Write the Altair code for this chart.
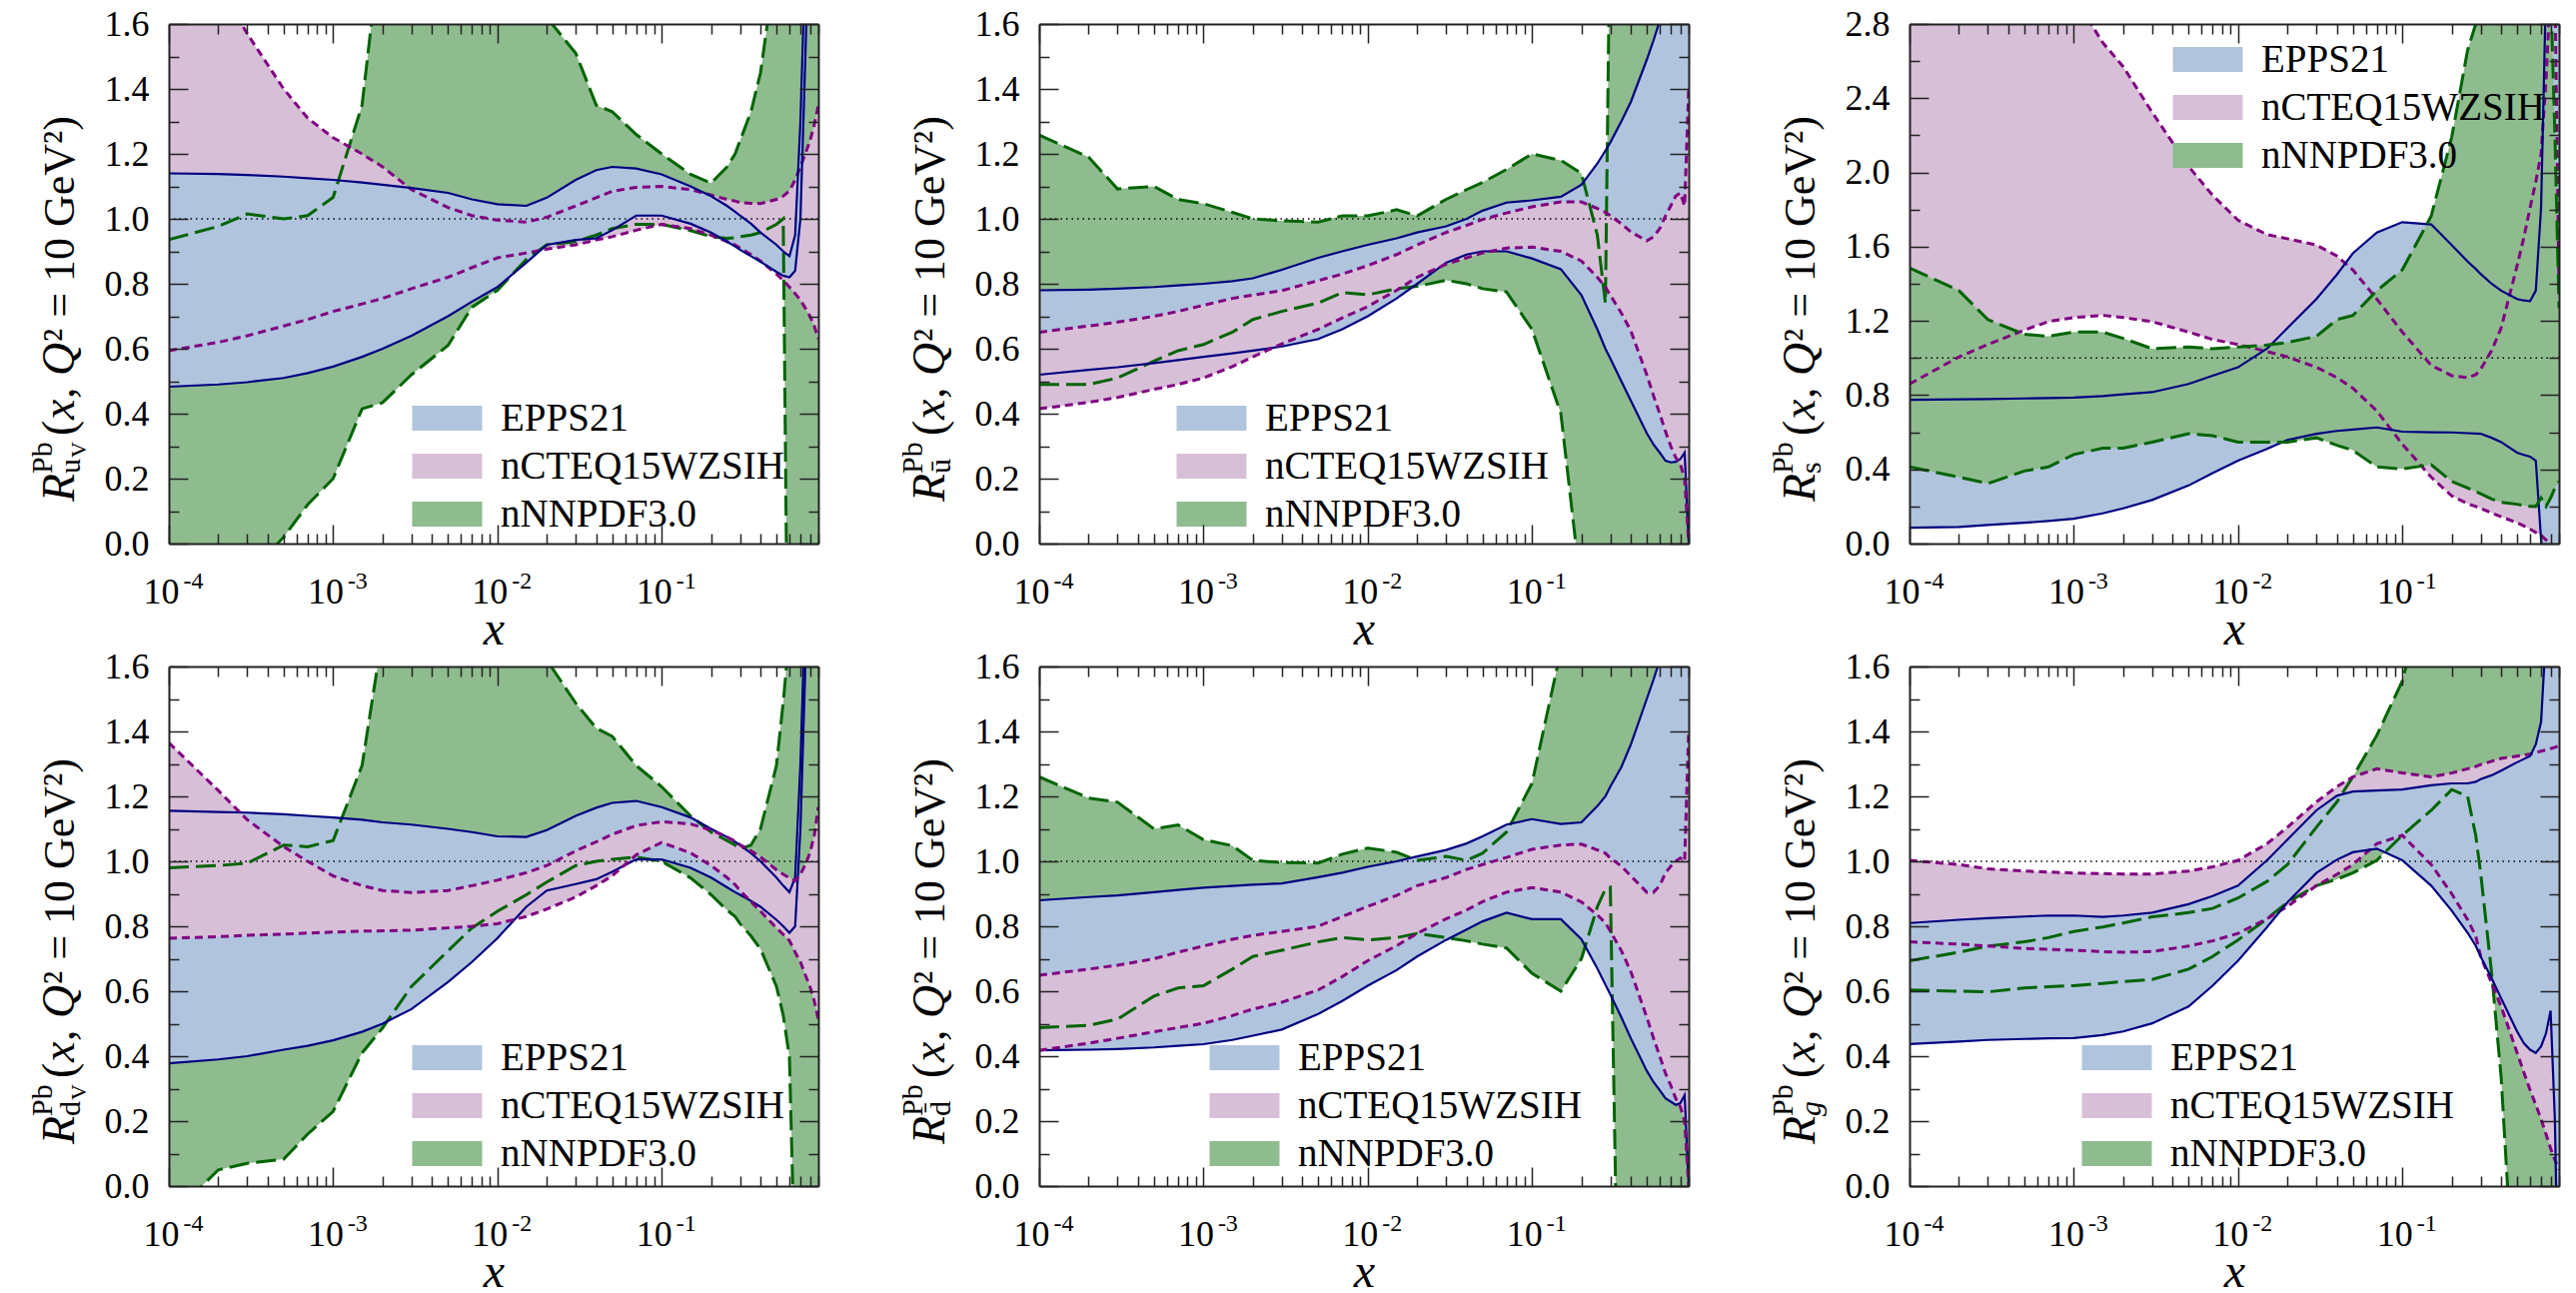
import altair as alt
import pandas as pd

# ---------------- data ----------------
X = [1e-4, 2e-4, 3e-4, 5e-4, 7e-4, 1e-3, 1.5e-3, 2e-3, 3e-3, 5e-3, 7e-3,
     1e-2, 1.5e-2, 2e-2, 3e-2, 4e-2, 5e-2, 7e-2, 0.1, 0.15, 0.2, 0.25, 0.28,
     0.3, 0.35, 0.4, 0.5, 0.55, 0.6, 0.65, 0.7, 0.75, 0.8, 0.85, 0.9]

MODELS = ["EPPS21", "nCTEQ15WZSIH", "nNNPDF3.0"]
FILL_COLORS = ["#b0c4de", "#d8bfd8", "#8fbc8f"]
LINE_COLORS = ["#000080", "#800080", "#006400"]

# u_V
UV_EPPS_HI = [1.14, 1.138, 1.135, 1.13, 1.125, 1.12, 1.112, 1.105, 1.095, 1.08, 1.06, 1.045, 1.04, 1.065, 1.12, 1.15, 1.16, 1.155, 1.137, 1.10, 1.07, 1.04, 1.022, 1.01, 0.985, 0.958, 0.92, 0.90, 0.885, 0.95, 1.3, 1.8, 2.2, 2.5, 2.8]
UV_EPPS_LO = [0.483, 0.49, 0.497, 0.51, 0.525, 0.545, 0.575, 0.60, 0.64, 0.70, 0.745, 0.79, 0.865, 0.92, 0.935, 0.94, 0.965, 1.01, 1.01, 0.985, 0.958, 0.93, 0.915, 0.905, 0.885, 0.868, 0.837, 0.825, 0.82, 0.84, 1.0, 1.5, 2.0, 2.4, 2.7]
UV_CTEQ_HI = [2.1, 1.72, 1.57, 1.40, 1.31, 1.25, 1.20, 1.16, 1.09, 1.035, 1.01, 0.996, 0.99, 1.005, 1.04, 1.065, 1.085, 1.097, 1.10, 1.09, 1.073, 1.06, 1.055, 1.05, 1.048, 1.047, 1.06, 1.07, 1.086, 1.12, 1.16, 1.2, 1.24, 1.29, 1.35]
UV_CTEQ_LO = [0.594, 0.62, 0.64, 0.67, 0.69, 0.715, 0.738, 0.755, 0.785, 0.82, 0.85, 0.88, 0.895, 0.907, 0.92, 0.935, 0.945, 0.965, 0.983, 0.97, 0.95, 0.93, 0.92, 0.91, 0.89, 0.87, 0.83, 0.81, 0.79, 0.77, 0.75, 0.725, 0.70, 0.67, 0.63]
UV_NNPDF_HI = [0.936, 0.977, 1.015, 1.0, 1.01, 1.066, 1.35, 1.9, 2.5, 2.5, 2.5, 2.5, 2.5, 1.62, 1.51, 1.35, 1.33, 1.26, 1.2, 1.137, 1.11, 1.16, 1.2, 1.24, 1.33, 1.45, 1.8, 2.2, 2.5, 2.5, 2.5, 2.5, 2.5, 2.5, 2.5]
UV_NNPDF_LO = [-0.6, -0.25, -0.1, 0.02, 0.12, 0.20, 0.415, 0.434, 0.52, 0.61, 0.728, 0.78, 0.875, 0.92, 0.93, 0.95, 0.97, 0.983, 0.983, 0.964, 0.945, 0.94, 0.942, 0.945, 0.95, 0.958, 0.983, 1.0, -1.0, -1.0, -1.0, -1.0, -1.0, -1.0, -1.0]

# u-bar
UB_EPPS_HI = [0.78, 0.782, 0.785, 0.79, 0.795, 0.80, 0.808, 0.817, 0.843, 0.88, 0.90, 0.92, 0.94, 0.958, 0.977, 1.0, 1.025, 1.05, 1.057, 1.068, 1.105, 1.17, 1.21, 1.235, 1.30, 1.36, 1.49, 1.55, 1.61, 1.68, 1.75, 1.82, 1.9, 2.0, 2.1]
UB_EPPS_LO = [0.52, 0.535, 0.543, 0.556, 0.565, 0.575, 0.586, 0.594, 0.607, 0.63, 0.66, 0.70, 0.755, 0.80, 0.865, 0.89, 0.90, 0.90, 0.878, 0.845, 0.765, 0.66, 0.60, 0.57, 0.50, 0.44, 0.34, 0.305, 0.28, 0.255, 0.25, 0.252, 0.26, 0.28, 0.0]
UB_CTEQ_HI = [0.651, 0.67, 0.682, 0.70, 0.715, 0.734, 0.755, 0.765, 0.779, 0.81, 0.83, 0.856, 0.89, 0.92, 0.958, 0.98, 0.998, 1.018, 1.037, 1.052, 1.052, 1.032, 1.02, 1.01, 0.985, 0.96, 0.932, 0.945, 0.97, 1.009, 1.04, 1.07, 1.08, 1.04, 1.4]
UB_CTEQ_LO = [0.415, 0.435, 0.45, 0.475, 0.49, 0.51, 0.545, 0.575, 0.615, 0.66, 0.695, 0.73, 0.78, 0.82, 0.86, 0.88, 0.895, 0.91, 0.913, 0.90, 0.87, 0.82, 0.79, 0.765, 0.71, 0.655, 0.52, 0.455, 0.40, 0.345, 0.30, 0.265, 0.245, 0.2, 0.0]
UB_NNPDF_HI = [1.258, 1.19, 1.092, 1.10, 1.06, 1.047, 1.02, 1.0, 0.994, 0.99, 1.009, 1.009, 1.028, 1.009, 1.06, 1.09, 1.112, 1.152, 1.2, 1.18, 1.14, 0.95, 0.74, 2.0, 2.5, 2.5, 2.5, 2.5, 2.5, 2.5, 2.5, 2.5, 2.5, 2.5, 2.5]
UB_NNPDF_LO = [0.49, 0.49, 0.51, 0.562, 0.594, 0.613, 0.651, 0.69, 0.715, 0.741, 0.773, 0.766, 0.785, 0.792, 0.811, 0.80, 0.785, 0.775, 0.66, 0.40, -0.15, -1.0, -1.0, -1.0, -1.0, -1.0, -1.0, -1.0, -1.0, -1.0, -1.0, -1.0, -1.0, -1.0, -1.0]

# s
S_EPPS_HI = [0.775, 0.777, 0.779, 0.782, 0.784, 0.787, 0.795, 0.804, 0.816, 0.86, 0.905, 0.95, 1.05, 1.162, 1.318, 1.45, 1.564, 1.676, 1.732, 1.72, 1.609, 1.52, 1.48, 1.453, 1.40, 1.363, 1.318, 1.31, 1.307, 1.363, 1.81, 3.0, 3.0, 3.0, 3.0]
S_EPPS_LO = [0.085, 0.09, 0.10, 0.112, 0.122, 0.134, 0.163, 0.19, 0.235, 0.313, 0.38, 0.447, 0.51, 0.559, 0.592, 0.607, 0.615, 0.626, 0.603, 0.60, 0.599, 0.595, 0.593, 0.592, 0.57, 0.547, 0.49, 0.478, 0.469, 0.447, 0.02, -0.5, -0.5, -0.5, -0.5]
S_CTEQ_HI = [5.0, 4.3, 3.9, 3.5, 3.2, 2.95, 2.7, 2.57, 2.324, 2.033, 1.877, 1.743, 1.665, 1.643, 1.609, 1.55, 1.475, 1.318, 1.14, 0.961, 0.905, 0.894, 0.91, 0.939, 1.04, 1.162, 1.497, 1.65, 1.81, 1.95, 2.1, 2.5, 3.0, 3.0, 1.38]
S_CTEQ_LO = [0.86, 1.006, 1.073, 1.151, 1.196, 1.218, 1.23, 1.218, 1.196, 1.14, 1.10, 1.073, 1.035, 1.006, 0.95, 0.895, 0.838, 0.715, 0.536, 0.358, 0.257, 0.215, 0.20, 0.19, 0.165, 0.145, 0.112, 0.095, 0.078, 0.06, 0.045, 0.02, 0.0, -0.1, -0.2]
S_NNPDF_HI = [1.486, 1.363, 1.207, 1.128, 1.117, 1.14, 1.14, 1.106, 1.05, 1.06, 1.05, 1.06, 1.07, 1.084, 1.117, 1.207, 1.229, 1.363, 1.475, 1.765, 2.19, 2.66, 2.8, 2.9, 3.0, 3.0, 3.0, 3.0, 3.0, 3.0, 3.0, 3.0, 3.0, 2.2, 1.27]
S_NNPDF_LO = [0.413, 0.358, 0.324, 0.391, 0.413, 0.48, 0.514, 0.514, 0.547, 0.592, 0.581, 0.547, 0.547, 0.547, 0.57, 0.53, 0.503, 0.413, 0.402, 0.425, 0.335, 0.30, 0.28, 0.268, 0.24, 0.223, 0.212, 0.205, 0.201, 0.20, 0.246, 0.2, 0.246, 0.30, 0.335]

# d_V
DV_EPPS_HI = [1.156, 1.152, 1.15, 1.145, 1.14, 1.135, 1.128, 1.12, 1.113, 1.10, 1.09, 1.077, 1.075, 1.096, 1.14, 1.165, 1.18, 1.186, 1.167, 1.135, 1.10, 1.075, 1.06, 1.05, 1.025, 1.0, 0.95, 0.925, 0.905, 0.95, 1.3, 1.8, 2.2, 2.5, 2.8]
DV_EPPS_LO = [0.378, 0.39, 0.40, 0.42, 0.432, 0.449, 0.475, 0.50, 0.545, 0.628, 0.69, 0.763, 0.86, 0.91, 0.93, 0.945, 0.968, 1.006, 1.006, 0.98, 0.95, 0.92, 0.905, 0.897, 0.878, 0.86, 0.82, 0.80, 0.78, 0.8, 1.1, 1.6, 2.0, 2.4, 2.7]
DV_CTEQ_HI = [1.365, 1.218, 1.128, 1.045, 1.0, 0.955, 0.925, 0.91, 0.904, 0.91, 0.925, 0.942, 0.965, 0.987, 1.032, 1.06, 1.083, 1.11, 1.122, 1.115, 1.096, 1.075, 1.062, 1.051, 1.032, 1.013, 0.974, 0.96, 0.949, 0.94, 0.96, 0.99, 1.026, 1.08, 1.167]
DV_CTEQ_LO = [0.763, 0.768, 0.772, 0.776, 0.779, 0.782, 0.785, 0.786, 0.788, 0.795, 0.80, 0.808, 0.83, 0.853, 0.89, 0.925, 0.955, 1.02, 1.058, 1.026, 0.987, 0.95, 0.928, 0.91, 0.876, 0.846, 0.795, 0.775, 0.756, 0.72, 0.69, 0.65, 0.615, 0.57, 0.513]
DV_NNPDF_HI = [0.98, 0.987, 0.994, 1.05, 1.045, 1.064, 1.295, 1.7, 2.5, 2.5, 2.5, 2.5, 2.5, 1.62, 1.487, 1.41, 1.385, 1.295, 1.23, 1.14, 1.09, 1.064, 1.05, 1.038, 1.05, 1.10, 1.295, 1.49, 1.7, 2.5, 2.5, 2.5, 2.5, 2.5, 2.5]
DV_NNPDF_LO = [-0.1, 0.05, 0.07, 0.083, 0.16, 0.23, 0.41, 0.487, 0.615, 0.724, 0.795, 0.846, 0.897, 0.936, 0.987, 1.0, 1.006, 1.013, 1.0, 0.949, 0.897, 0.85, 0.83, 0.808, 0.77, 0.73, 0.615, 0.526, 0.397, -0.3, -1.0, -1.0, -1.0, -1.0, -1.0]

# d-bar
DB_EPPS_HI = [0.88, 0.89, 0.895, 0.905, 0.912, 0.919, 0.924, 0.928, 0.932, 0.951, 0.965, 0.983, 1.0, 1.015, 1.035, 1.055, 1.077, 1.113, 1.13, 1.115, 1.12, 1.17, 1.20, 1.23, 1.29, 1.36, 1.50, 1.56, 1.62, 1.7, 1.78, 1.85, 1.92, 2.0, 2.1]
DB_EPPS_LO = [0.418, 0.42, 0.422, 0.427, 0.432, 0.437, 0.45, 0.463, 0.482, 0.53, 0.57, 0.617, 0.665, 0.707, 0.758, 0.79, 0.815, 0.842, 0.822, 0.822, 0.76, 0.67, 0.62, 0.59, 0.52, 0.455, 0.355, 0.32, 0.295, 0.27, 0.26, 0.25, 0.255, 0.28, 0.0]
DB_CTEQ_HI = [0.649, 0.668, 0.68, 0.70, 0.72, 0.739, 0.76, 0.772, 0.784, 0.80, 0.83, 0.861, 0.895, 0.925, 0.95, 0.975, 0.99, 1.012, 1.037, 1.05, 1.053, 1.035, 1.025, 1.01, 0.985, 0.955, 0.905, 0.905, 0.925, 0.964, 0.985, 1.0, 1.01, 1.0, 1.4]
DB_CTEQ_LO = [0.418, 0.44, 0.455, 0.475, 0.488, 0.501, 0.525, 0.545, 0.566, 0.604, 0.645, 0.694, 0.74, 0.778, 0.823, 0.85, 0.876, 0.905, 0.919, 0.905, 0.875, 0.835, 0.81, 0.785, 0.725, 0.66, 0.52, 0.455, 0.40, 0.347, 0.31, 0.27, 0.245, 0.2, 0.0]
DB_NNPDF_HI = [1.26, 1.195, 1.182, 1.10, 1.112, 1.067, 1.048, 1.003, 0.996, 0.995, 1.022, 1.041, 1.028, 1.003, 1.015, 1.003, 1.025, 1.09, 1.24, 1.65, 2.2, 2.5, 2.5, 2.5, 2.5, 2.5, 2.5, 2.5, 2.5, 2.5, 2.5, 2.5, 2.5, 2.5, 2.5]
DB_NNPDF_LO = [0.488, 0.495, 0.514, 0.585, 0.61, 0.617, 0.668, 0.707, 0.726, 0.752, 0.765, 0.758, 0.765, 0.778, 0.765, 0.755, 0.745, 0.733, 0.655, 0.60, 0.70, 0.86, 0.915, 0.92, -1.0, -1.0, -1.0, -1.0, -1.0, -1.0, -1.0, -1.0, -1.0, -1.0, -1.0]

# g
G_EPPS_HI = [0.81, 0.82, 0.825, 0.83, 0.833, 0.833, 0.829, 0.833, 0.842, 0.868, 0.893, 0.925, 1.003, 1.067, 1.157, 1.202, 1.215, 1.218, 1.221, 1.234, 1.24, 1.24, 1.245, 1.253, 1.265, 1.279, 1.305, 1.315, 1.324, 1.36, 1.43, 1.7, 2.2, 2.6, 2.8]
G_EPPS_LO = [0.437, 0.445, 0.45, 0.453, 0.455, 0.456, 0.465, 0.476, 0.501, 0.553, 0.617, 0.694, 0.797, 0.874, 0.964, 1.005, 1.028, 1.039, 1.003, 0.925, 0.848, 0.78, 0.74, 0.707, 0.64, 0.578, 0.476, 0.44, 0.42, 0.41, 0.43, 0.47, 0.54, 0.2, -0.5]
G_CTEQ_HI = [1.003, 0.99, 0.977, 0.97, 0.967, 0.964, 0.962, 0.961, 0.961, 0.97, 0.983, 1.003, 1.054, 1.105, 1.183, 1.23, 1.26, 1.285, 1.272, 1.26, 1.272, 1.285, 1.292, 1.298, 1.308, 1.317, 1.324, 1.327, 1.33, 1.335, 1.339, 1.343, 1.347, 1.351, 1.356]
G_CTEQ_LO = [0.752, 0.745, 0.739, 0.732, 0.729, 0.726, 0.722, 0.72, 0.722, 0.739, 0.755, 0.778, 0.823, 0.861, 0.925, 0.96, 0.99, 1.054, 1.08, 0.99, 0.9, 0.82, 0.77, 0.707, 0.625, 0.553, 0.411, 0.35, 0.296, 0.25, 0.206, 0.16, 0.116, 0.08, 0.05]
G_NNPDF_HI = [0.694, 0.72, 0.739, 0.752, 0.765, 0.784, 0.798, 0.81, 0.829, 0.842, 0.855, 0.887, 0.938, 0.99, 1.105, 1.183, 1.26, 1.388, 1.555, 1.9, 2.2, 2.5, 2.5, 2.5, 2.5, 2.5, 2.5, 2.5, 2.5, 2.5, 2.5, 2.5, 2.5, 2.5, 2.5]
G_NNPDF_LO = [0.604, 0.60, 0.598, 0.61, 0.614, 0.617, 0.624, 0.63, 0.636, 0.668, 0.707, 0.758, 0.823, 0.874, 0.925, 0.945, 0.964, 1.003, 1.08, 1.157, 1.221, 1.2, 1.08, 0.964, 0.656, 0.334, -0.5, -1.0, -1.0, -1.0, -1.0, -1.0, -1.0, -1.0, -1.0]

X_MAJOR = [1e-4, 1e-3, 1e-2, 1e-1]
X_MINOR = [m * d for d in (1e-4, 1e-3, 1e-2, 1e-1) for m in range(2, 10)]

# ---------------- styling ----------------
SERIF = "Liberation Serif, Times New Roman, Times, serif"
W, H = 650, 520
RECT = "M-1.944,-0.694L1.944,-0.694L1.944,0.694L-1.944,0.694Z"
LINE_STYLE = {
    "EPPS21": dict(color="#000080", strokeWidth=2.2),
    "nCTEQ15WZSIH": dict(color="#800080", strokeWidth=3, strokeDash=[8, 5]),
    "nNNPDF3.0": dict(color="#006400", strokeWidth=3, strokeDash=[20, 7]),
}
EXP_EXPR = ("datum.value < 5e-4 ? '-4' : datum.value < 5e-3 ? '-3' : "
            "datum.value < 5e-2 ? '-2' : '-1'")
NB = "\u00a0"


def band_df(bands):
    rows = []
    for m, (lo, hi) in bands.items():
        for x, l, h in zip(X, lo, hi):
            rows.append({"x": x, "lo": l, "hi": h, "model": m})
    return pd.DataFrame(rows)


def tick_ax(orient, values, size, offset, domain):
    return alt.Axis(orient=orient, offset=offset, values=values, labels=False,
                    grid=False, ticks=True, tickSize=size, tickColor="#222",
                    tickWidth=1.5, domain=domain, domainColor="#222",
                    domainWidth=2, title=None, zindex=2)


def text_piece(txt, x, y, size, style="normal"):
    return alt.Chart(pd.DataFrame({"k": [0]})).mark_text(
        text=txt, angle=270, align="left", baseline="alphabetic", font=SERIF,
        fontSize=size, fontStyle=style, color="black"
    ).encode(x=alt.value(x), y=alt.value(y))


def make_panel(bands, order, ymax, ystep, leg, sub, sub_italic=False, subsub=None):
    df = band_df(bands)
    xs = alt.Scale(type="log", domain=[1e-4, 0.9], nice=False)
    ys = alt.Scale(domain=[0, ymax], nice=False, zero=False)
    n = int(round(ymax / ystep))
    y_major = [round(i * ystep, 2) for i in range(n + 1)]
    y_minor = [round((i + 0.5) * ystep, 2) for i in range(n)]

    fill = alt.Fill(
        "model:N",
        scale=alt.Scale(domain=MODELS, range=FILL_COLORS),
        legend=alt.Legend(orient="none", legendX=leg[0], legendY=leg[1], title=None,
                          symbolType=RECT, symbolSize=1296, symbolStrokeWidth=0,
                          symbolOpacity=1, labelFont=SERIF, labelFontSize=39,
                          labelColor="black", labelOffset=34, rowPadding=8,
                          padding=0, labelLimit=500, direction="vertical"),
    )
    base = alt.Chart(df)
    layers = []
    for m in order:
        layers.append(
            base.transform_filter(alt.datum.model == m)
            .mark_area(clip=True, opacity=1)
            .encode(x=alt.X("x:Q", scale=xs, axis=None),
                    y=alt.Y("lo:Q", scale=ys, axis=None),
                    y2=alt.Y2("hi:Q"),
                    fill=fill)
        )
    layers.append(
        alt.Chart(pd.DataFrame({"y": [1.0]}))
        .mark_rule(color="black", strokeWidth=1.5, strokeDash=[1.5, 4])
        .encode(y=alt.Y("y:Q", scale=ys, axis=None))
    )
    for m in order:
        layers.append(
            base.transform_filter(alt.datum.model == m)
            .transform_fold(["lo", "hi"], as_=["bound", "val"])
            .mark_line(clip=True, **LINE_STYLE[m])
            .encode(x=alt.X("x:Q", scale=xs, axis=None),
                    y=alt.Y("val:Q", scale=ys, axis=None),
                    detail="bound:N")
        )

    # y-axis title  R^{Pb}_{sub}(x, Q^2 = 10 GeV^2)
    layers.append(text_piece("R", -95, 478, 46, "italic"))
    layers.append(text_piece("Pb", -117, 450, 30))
    layers.append(text_piece(sub, -89, 450, 30, "italic" if sub_italic else "normal"))
    if subsub:
        layers.append(text_piece(subsub, -83, 434, 22))
    s0 = 412
    layers.append(text_piece("(", -95, s0, 46))
    layers.append(text_piece("x", -95, s0 - 16, 46, "italic"))
    layers.append(text_piece(",", -95, s0 - 37, 46))
    layers.append(text_piece("Q", -95, s0 - 60, 46, "italic"))
    layers.append(text_piece("\u00b2" + NB + "=" + NB + "10" + NB + "GeV\u00b2)",
                             -95, s0 - 94, 44))

    frame = pd.DataFrame({"x": [1e-4, 0.9], "y": [0.0, ymax]})

    def ax_layer(xa, ya):
        return alt.Chart(frame).mark_point(opacity=0, size=1).encode(
            x=alt.X("x:Q", scale=xs, axis=xa), y=alt.Y("y:Q", scale=ys, axis=ya))

    lab_x = alt.Axis(orient="bottom", values=X_MAJOR, labelExpr="'10'", ticks=False,
                     tickSize=0, domain=False, grid=False, labelFont=SERIF,
                     labelFontSize=36, labelColor="black", labelBaseline="alphabetic",
                     labelPadding=59, labelOffset=-8, labelFlush=False, labelOverlap=False,
                     title="x", titleFont=SERIF, titleFontSize=48, titleFontStyle="italic",
                     titleFontWeight="normal", titleColor="black",
                     titleBaseline="alphabetic", titleY=100)
    exp_x = alt.Axis(orient="bottom", values=X_MAJOR, labelExpr=EXP_EXPR, ticks=False,
                     tickSize=0, domain=False, grid=False, labelFont=SERIF,
                     labelFontSize=24, labelColor="black", labelBaseline="alphabetic",
                     labelPadding=44, labelOffset=24, labelFlush=False, labelOverlap=False,
                     title=None)
    lab_y = alt.Axis(orient="left", values=y_major, format=".1f", ticks=False,
                     tickSize=0, domain=False, grid=False, labelFont=SERIF,
                     labelFontSize=36, labelColor="black", labelPadding=20,
                     labelFlush=False, labelOverlap=False, title=None)

    layers += [
        ax_layer(lab_x, lab_y),
        ax_layer(exp_x, tick_ax("right", y_major, 19, -W, True)),
        ax_layer(tick_ax("top", X_MAJOR, 19, -H, True), tick_ax("right", y_minor, 10, -W, False)),
        ax_layer(tick_ax("top", X_MINOR, 10, -H, False), tick_ax("left", y_major, 19, -W, True)),
        ax_layer(tick_ax("bottom", X_MAJOR, 19, -H, True), tick_ax("left", y_minor, 10, -W, False)),
        ax_layer(tick_ax("bottom", X_MINOR, 10, -H, False), None),
    ]
    return (alt.layer(*layers)
            .resolve_axis(x="independent", y="independent")
            .properties(width=W, height=H))


E, C, N = MODELS
panels = [
    make_panel({E: (UV_EPPS_LO, UV_EPPS_HI), C: (UV_CTEQ_LO, UV_CTEQ_HI), N: (UV_NNPDF_LO, UV_NNPDF_HI)},
               [N, C, E], 1.6, 0.2, (259, 375), "u", subsub="V"),
    make_panel({E: (UB_EPPS_LO, UB_EPPS_HI), C: (UB_CTEQ_LO, UB_CTEQ_HI), N: (UB_NNPDF_LO, UB_NNPDF_HI)},
               [N, E, C], 1.6, 0.2, (153, 375), "\u016b"),
    make_panel({E: (S_EPPS_LO, S_EPPS_HI), C: (S_CTEQ_LO, S_CTEQ_HI), N: (S_NNPDF_LO, S_NNPDF_HI)},
               [C, E, N], 2.8, 0.4, (279, 16), "s"),
    make_panel({E: (DV_EPPS_LO, DV_EPPS_HI), C: (DV_CTEQ_LO, DV_CTEQ_HI), N: (DV_NNPDF_LO, DV_NNPDF_HI)},
               [N, E, C], 1.6, 0.2, (259, 372), "d", subsub="V"),
    make_panel({E: (DB_EPPS_LO, DB_EPPS_HI), C: (DB_CTEQ_LO, DB_CTEQ_HI), N: (DB_NNPDF_LO, DB_NNPDF_HI)},
               [N, E, C], 1.6, 0.2, (186, 372), "d\u0304"),
    make_panel({E: (G_EPPS_LO, G_EPPS_HI), C: (G_CTEQ_LO, G_CTEQ_HI), N: (G_NNPDF_LO, G_NNPDF_HI)},
               [N, C, E], 1.6, 0.2, (188, 372), "g", sub_italic=True),
]

chart = (
    alt.concat(*panels, columns=3, spacing={"row": 123, "column": 221}, bounds="flush")
    .resolve_scale(fill="independent")
    .resolve_legend(fill="independent")
    .properties(padding={"left": 28, "top": 6, "right": 5, "bottom": 5})
    .configure_view(strokeWidth=0)
)

chart.save("out.html", embed_options={"renderer": "svg", "actions": False})
